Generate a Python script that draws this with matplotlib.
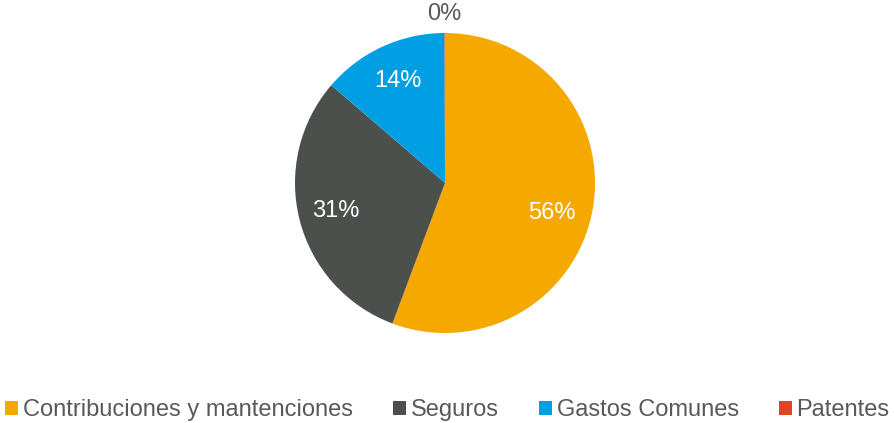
import matplotlib
matplotlib.use('Agg')
import matplotlib.pyplot as plt

categories = ['Contribuciones y mantenciones', 'Seguros', 'Gastos Comunes', 'Patentes']
values = [55.7, 30.6, 13.65, 0.05]
colors = ['#F5A800', '#4B504D', '#009FE3', '#E0451F']

plt.rcParams['font.family'] = ['Liberation Sans', 'DejaVu Sans']
textgray = '#595959'

fig = plt.figure(figsize=(8.95, 4.23), dpi=100)
ax = fig.add_axes([0, 0, 1, 1])

W, H = 895, 423
cx, cy, r = 445, H - 183, 150

wedges, texts, autotexts = ax.pie(values, colors=colors, startangle=90, counterclock=False,
                                  center=(cx, cy), radius=r, autopct='%.0f%%', pctdistance=0.75,
                                  wedgeprops=dict(linewidth=0),
                                  textprops=dict(color='white', fontsize=17))
# tiny slice label sits outside the pie
x, y = autotexts[-1].get_position()
autotexts[-1].set_position((cx + (x - cx) * 1.13 / 0.75, cy + (y - cy) * 1.13 / 0.75))
autotexts[-1].set_color(textgray)
# big slice label sits a bit lower, like the original
x, y = autotexts[0].get_position()
autotexts[0].set_position((x - 4, y - 10))

ax.set_xlim(0, W)
ax.set_ylim(0, H)
ax.set_aspect('equal')
ax.axis('off')

leg = fig.legend(wedges, categories, loc='center', bbox_to_anchor=(0.5, 1 - 410 / H), ncol=4,
                 frameon=False, fontsize=17, handlelength=0.55, handleheight=0.55,
                 handletextpad=0.2, columnspacing=1.7, borderpad=0)
for t in leg.get_texts():
    t.set_color(textgray)

fig.savefig('out.png', dpi=100)
